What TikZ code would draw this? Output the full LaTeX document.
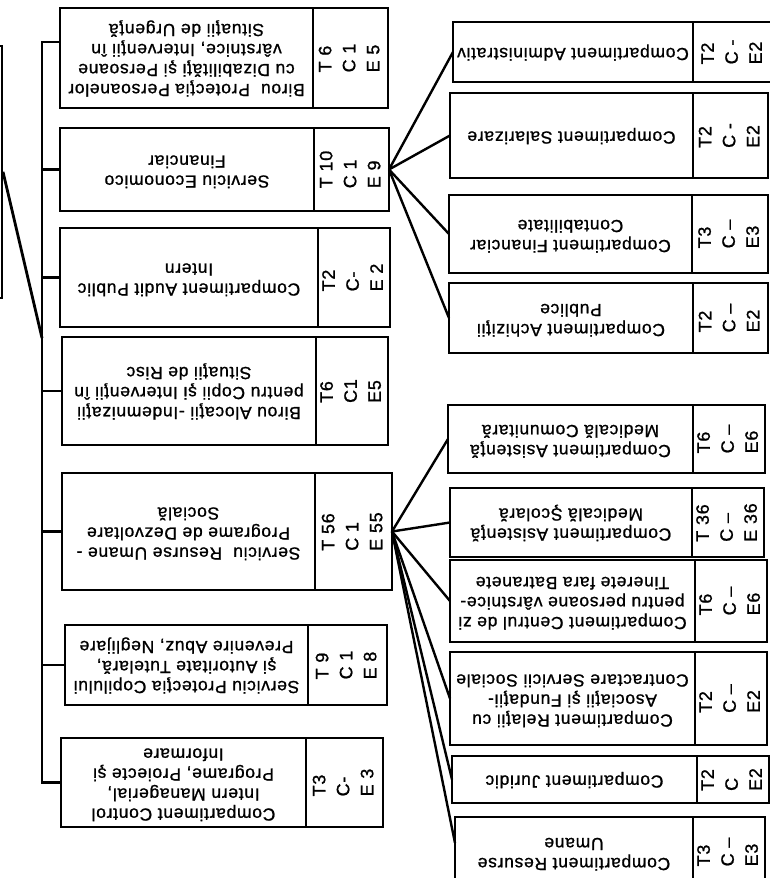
\documentclass[tikz,border=0pt]{standalone}
\usepackage{fontspec}
\usepackage{graphicx}
\newfontfamily\orgfont{Liberation Sans}[LetterSpace=4,FakeBold=1]
\usetikzlibrary{positioning}
\newcommand{\ut}[1]{\rotatebox{180}{\begin{tabular}{@{}c@{}}#1\end{tabular}}}
\newcommand{\nr}[1]{\rotatebox{90}{\begin{tabular}{@{}l@{}}#1\end{tabular}}}

\begin{document}
\begin{tikzpicture}[
  x=1pt, y=-1pt,
  unit/.style={draw,line width=1.6pt,outer sep=0pt,inner sep=0pt,anchor=north west,
    font=\orgfont\fontsize{17.5}{20}\selectfont},
  nrbox/.style={draw,line width=1.6pt,outer sep=0pt,inner sep=0pt,right=0pt of #1,
    font=\orgfont\fontsize{18}{24}\selectfont},
  link/.style={line width=2.8pt},
  fan/.style={line width=2.4pt}
]
\useasboundingbox (0,0) rectangle (769,878);

% servicii
\node[unit,minimum width=253pt,minimum height=100pt] (bp) at (60,8)
  {\ut{Birou\ \ Protecţia Persoanelor\\cu Dizabilităţi şi Persoane\\vârstnice, Intervenţii în\\Situaţii de Urgenţă}};
\node[nrbox=bp,minimum width=75pt,minimum height=100pt] (bpn) {\nr{T 6\\C 1\\E 5}};
\node[unit,minimum width=254pt,minimum height=83pt] (se) at (60,128)
  {\ut{Serviciu Economico\\Financiar}};
\node[nrbox=se,minimum width=75pt,minimum height=83pt] (sen) {\nr{T 10\\C 1\\E 9}};
\node[unit,minimum width=258pt,minimum height=99pt] (ca) at (60,228)
  {\ut{Compartiment Audit Public\\Intern}};
\node[nrbox=ca,minimum width=70pt,minimum height=99pt] (can) {\nr{T2\\C-\\E 2}};
\node[unit,minimum width=254pt,minimum height=108pt] (ba) at (62,337)
  {\ut{Birou Alocaţii -Indemnizaţii\\pentru Copii şi Intervenţii în\\Situaţii de Risc}};
\node[nrbox=ba,minimum width=71pt,minimum height=108pt] (ban) {\nr{T6\\C1\\E5}};
\node[unit,minimum width=253pt,minimum height=117pt] (sr) at (62,473)
  {\ut{Serviciu\ \ Resurse Umane -\\Programe de Dezvoltare\\Socială}};
\node[nrbox=sr,minimum width=77pt,minimum height=117pt] (srn) {\nr{T 56\\C 1\\E 55}};
\node[unit,minimum width=243pt,minimum height=80pt] (sp) at (65,625)
  {\ut{Serviciu Protecţia Copilului\\şi Autoritate Tutelară,\\Prevenire Abuz, Neglijare}};
\node[nrbox=sp,minimum width=79pt,minimum height=80pt] (spn) {\nr{T 9\\C 1\\E 8}};
\node[unit,minimum width=245pt,minimum height=89pt] (cc) at (61,738)
  {\ut{Compartiment Control\\Intern Managerial,\\Programe, Proiecte şi\\Informare}};
\node[nrbox=cc,minimum width=77pt,minimum height=89pt] (ccn) {\nr{T3\\C-\\E 3}};

% compartimente economico
\node[unit,minimum width=240pt,minimum height=60pt] (cadm) at (453,22)
  {\ut{Compartiment Administrativ}};
\node[nrbox=cadm,minimum width=80pt,minimum height=60pt] (cadmn) {\nr{T2\\C -\\E2}};
\node[unit,minimum width=243pt,minimum height=85pt] (csal) at (450,93)
  {\ut{Compartiment Salarizare}};
\node[nrbox=csal,minimum width=75pt,minimum height=85pt] (csaln) {\nr{T2\\C -\\E2}};
\node[unit,minimum width=243pt,minimum height=78pt] (cfin) at (449,195)
  {\ut{Compartiment Financiar\\Contabilitate}};
\node[nrbox=cfin,minimum width=76pt,minimum height=78pt] (cfinn) {\nr{T3\\C –\\E3}};
\node[unit,minimum width=244pt,minimum height=70pt] (cach) at (449,283)
  {\ut{Compartiment Achiziţii\\Publice}};
\node[nrbox=cach,minimum width=75pt,minimum height=70pt] (cachn) {\nr{T2\\C –\\E2}};

% compartimente resurse umane
\node[unit,minimum width=245pt,minimum height=68pt] (camc) at (448,405)
  {\ut{Compartiment Asistenţă\\Medicală Comunitară}};
\node[nrbox=camc,minimum width=69pt,minimum height=68pt] (camcn) {\nr{T6\\C –\\E6}};
\node[unit,minimum width=242pt,minimum height=69pt] (cams) at (450,488)
  {\ut{Compartiment Asistenţă\\Medicală Şcolară}};
\node[nrbox=cams,minimum width=68pt,minimum height=69pt] (camsn) {\nr{T 36\\C –\\E 36}};
\node[unit,minimum width=245pt,minimum height=82pt] (ccz) at (450,560)
  {\ut{Compartiment Centrul de zi\\pentru persoane vârstnice-\\Tinerete fara Batranete}};
\node[nrbox=ccz,minimum width=67pt,minimum height=82pt] (cczn) {\nr{T6\\C –\\E6}};
\node[unit,minimum width=245pt,minimum height=93pt] (cra) at (450,652)
  {\ut{Compartiment Relaţii cu\\Asociaţii şi Fundaţii-\\Contractare Servicii Sociale}};
\node[nrbox=cra,minimum width=67pt,minimum height=93pt] (cran) {\nr{T2\\C –\\E2}};
\node[unit,minimum width=245pt,minimum height=47pt] (cj) at (452,756)
  {\ut{Compartiment Juridic}};
\node[nrbox=cj,minimum width=63pt,minimum height=47pt] (cjn) {\nr{T2\\C\\E2}};
\node[unit,minimum width=238pt,minimum height=70pt] (cru) at (455,817)
  {\ut{Compartiment Resurse\\Umane}};
\node[nrbox=cru,minimum width=67pt,minimum height=70pt] (crun) {\nr{T3\\C –\\E3}};

% directie
\node[draw,line width=1.6pt,minimum width=100pt,minimum height=252pt,anchor=north east] (dir) at (3,45) {};
\coordinate (bustop) at (42,42);
\coordinate (busjoin) at (42,338);
\draw[link] (dir.east) -- (busjoin);
\draw[link] (bustop -| bp.west) -- (bustop) -- (bustop |- cc.west) -- (cc.west);
\foreach \b in {se,ca,ba,sr,sp}
  \draw[link] (\b.west) -- (\b.west -| bustop);

\foreach \b in {cadm,csal,cfin,cach}
  \draw[fan] (sen.east) -- (\b.west);
\foreach \b in {camc,cams,ccz,cra,cj}
  \draw[fan] (srn.east) -- (\b.west);
\draw[fan] (srn.east) -- ([yshift=-26pt]cru.north west);
\end{tikzpicture}
\end{document}
